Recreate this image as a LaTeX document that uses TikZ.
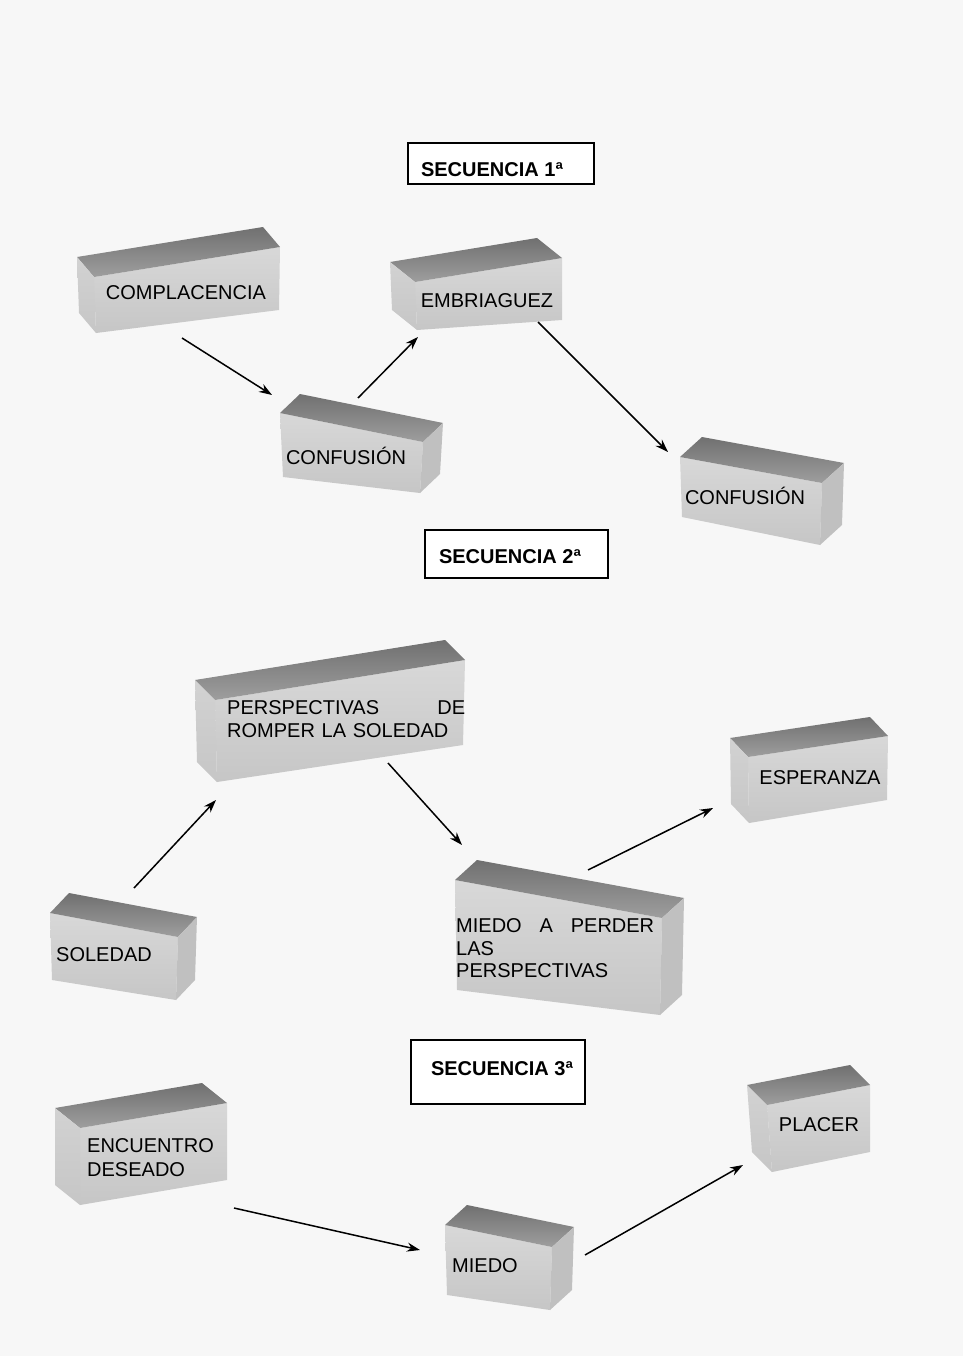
\documentclass[tikz,border=0pt]{standalone}
\usepackage{fontspec}
\setmainfont{Liberation Sans}
\usetikzlibrary{calc,arrows.meta}
\definecolor{paper}{HTML}{F7F7F7}
\definecolor{topdark}{HTML}{707070}
\definecolor{toplight}{HTML}{9E9E9E}
\definecolor{frontlight}{HTML}{D8D8D8}
\definecolor{frontdark}{HTML}{C6C6C6}
\definecolor{sidecol}{HTML}{C0C0C0}
\definecolor{leftcol}{HTML}{D2D2D2}
\tikzset{
  topface/.style={top color=topdark, bottom color=toplight},
  frontface/.style={top color=frontlight, bottom color=frontdark},
  sideface/.style={fill=sidecol},
  leftface/.style={top color=leftcol, bottom color=frontdark},
  lbl/.style={inner sep=0pt, font=\fontsize{20}{22}\selectfont, anchor=base},
  mlbl/.style={inner sep=0pt, font=\fontsize{20}{22.5}\selectfont, anchor=north west, align=left},
  seqbox/.style={draw=black, line width=1.5pt, fill=white},
  seqtxt/.style={inner sep=0pt, font=\fontsize{20}{22}\selectfont\bfseries, anchor=base},
  arr/.style={line width=1.5pt, -{Stealth[length=13pt,width=9pt]}},
}
% block with right face visible: #1 FTL, #2 FTR, #3 FBR, #4 FBL, #5 depth vector
\newcommand{\blkR}[5]{%
  \shade[frontface] #1 -- #2 -- #3 -- #4 -- cycle;
  \shade[topface] #1 -- #2 -- ($#2+#5$) -- ($#1+#5$) -- cycle;
  \fill[sideface] #2 -- ($#2+#5$) -- ($#3+#5$) -- #3 -- cycle;}
% block with left face visible
\newcommand{\blkL}[5]{%
  \shade[frontface] #1 -- #2 -- #3 -- #4 -- cycle;
  \shade[topface] #1 -- #2 -- ($#2+#5$) -- ($#1+#5$) -- cycle;
  \shade[leftface] #1 -- ($#1+#5$) -- ($#4+#5$) -- #4 -- cycle;}
\begin{document}
\begin{tikzpicture}[x=1pt, y=-1pt]
\useasboundingbox (0,0) rectangle (963,1356);
\fill[paper] (0,0) rectangle (963,1356);

% ---------- Secuencia 1
\draw[seqbox] (408,143) rectangle (594,184);
\node[seqtxt] (s1) at (492,177) {SECUENCIA 1ª};

\blkL{(94,277)}{(280,247)}{(279,310)}{(96,333)}{(-17,-20)}
\node[lbl] (complacencia) at (186,299) {COMPLACENCIA};

\blkR{(280,413)}{(423,442)}{(420,493)}{(283,477)}{(20,-19)}
\node[lbl] (confusion1) at (346,464) {CONFUSIÓN};

\blkL{(415,282)}{(562,258)}{(562,320)}{(417,330)}{(-25,-20)}
\node[lbl] (embriaguez) at (487,307) {EMBRIAGUEZ};

\blkR{(680,457)}{(822,483)}{(820,545)}{(682,517)}{(22,-20)}
\node[lbl] (confusion2) at (745,504) {CONFUSIÓN};

\coordinate (a1s) at (182,338); \coordinate (a1e) at (272,395);
\coordinate (a2s) at (358,398); \coordinate (a2e) at (418,337);
\coordinate (a3s) at (538,322); \coordinate (a3e) at (668,452);
\draw[arr] (a1s) -- (a1e);
\draw[arr] (a2s) -- (a2e);
\draw[arr] (a3s) -- (a3e);

% ---------- Secuencia 2
\draw[seqbox] (425,530) rectangle (608,578);
\node[seqtxt] (s2) at (510,563) {SECUENCIA 2ª};

\blkL{(215,700)}{(465,660)}{(463,745)}{(217,782)}{(-20,-20)}
\node[mlbl, text width=238pt] (perspectivas) at (227,700.5)
  {PERSPECTIVAS\hfill DE\\ROMPER LA SOLEDAD};

\blkL{(748,757)}{(888,736)}{(887,800)}{(749,823)}{(-18,-19)}
\node[lbl] (esperanza) at (820,784) {ESPERANZA};

\blkR{(50,913)}{(178,937)}{(176,1000)}{(52,980)}{(19,-20)}
\node[lbl] (soledad) at (104,961) {SOLEDAD};

\blkR{(455,880)}{(662,918)}{(660,1015)}{(457,990)}{(22,-20)}
\node[mlbl, text width=198pt] (miedoperder) at (456,918.5)
  {MIEDO\hfill A\hfill PERDER\\LAS\\PERSPECTIVAS};

\coordinate (b1s) at (134,888); \coordinate (b1e) at (216,800);
\coordinate (b2s) at (388,763); \coordinate (b2e) at (462,845);
\coordinate (b3s) at (588,870); \coordinate (b3e) at (713,808);
\draw[arr] (b1s) -- (b1e);
\draw[arr] (b2s) -- (b2e);
\draw[arr] (b3s) -- (b3e);

% ---------- Secuencia 3
\draw[seqbox] (411,1040) rectangle (585,1104);
\node[seqtxt] (s3) at (502,1075) {SECUENCIA 3ª};

\blkL{(80,1128)}{(227,1103)}{(227,1180)}{(80,1205)}{(-25,-20)}
\node[mlbl, font=\fontsize{20}{24}\selectfont] (encuentro) at (87,1138.5)
  {ENCUENTRO\\DESEADO};

\blkR{(445,1225)}{(552,1247)}{(550,1310)}{(447,1295)}{(22,-20)}
\node[lbl] (miedo) at (485,1272) {MIEDO};

\blkL{(767,1105)}{(870,1085)}{(870,1152)}{(772,1172)}{(-20,-20)}
\node[lbl] (placer) at (819,1131) {PLACER};

\coordinate (c1s) at (234,1208); \coordinate (c1e) at (420,1250);
\coordinate (c2s) at (585,1255); \coordinate (c2e) at (743,1165);
\draw[arr] (c1s) -- (c1e);
\draw[arr] (c2s) -- (c2e);
\end{tikzpicture}
\end{document}
